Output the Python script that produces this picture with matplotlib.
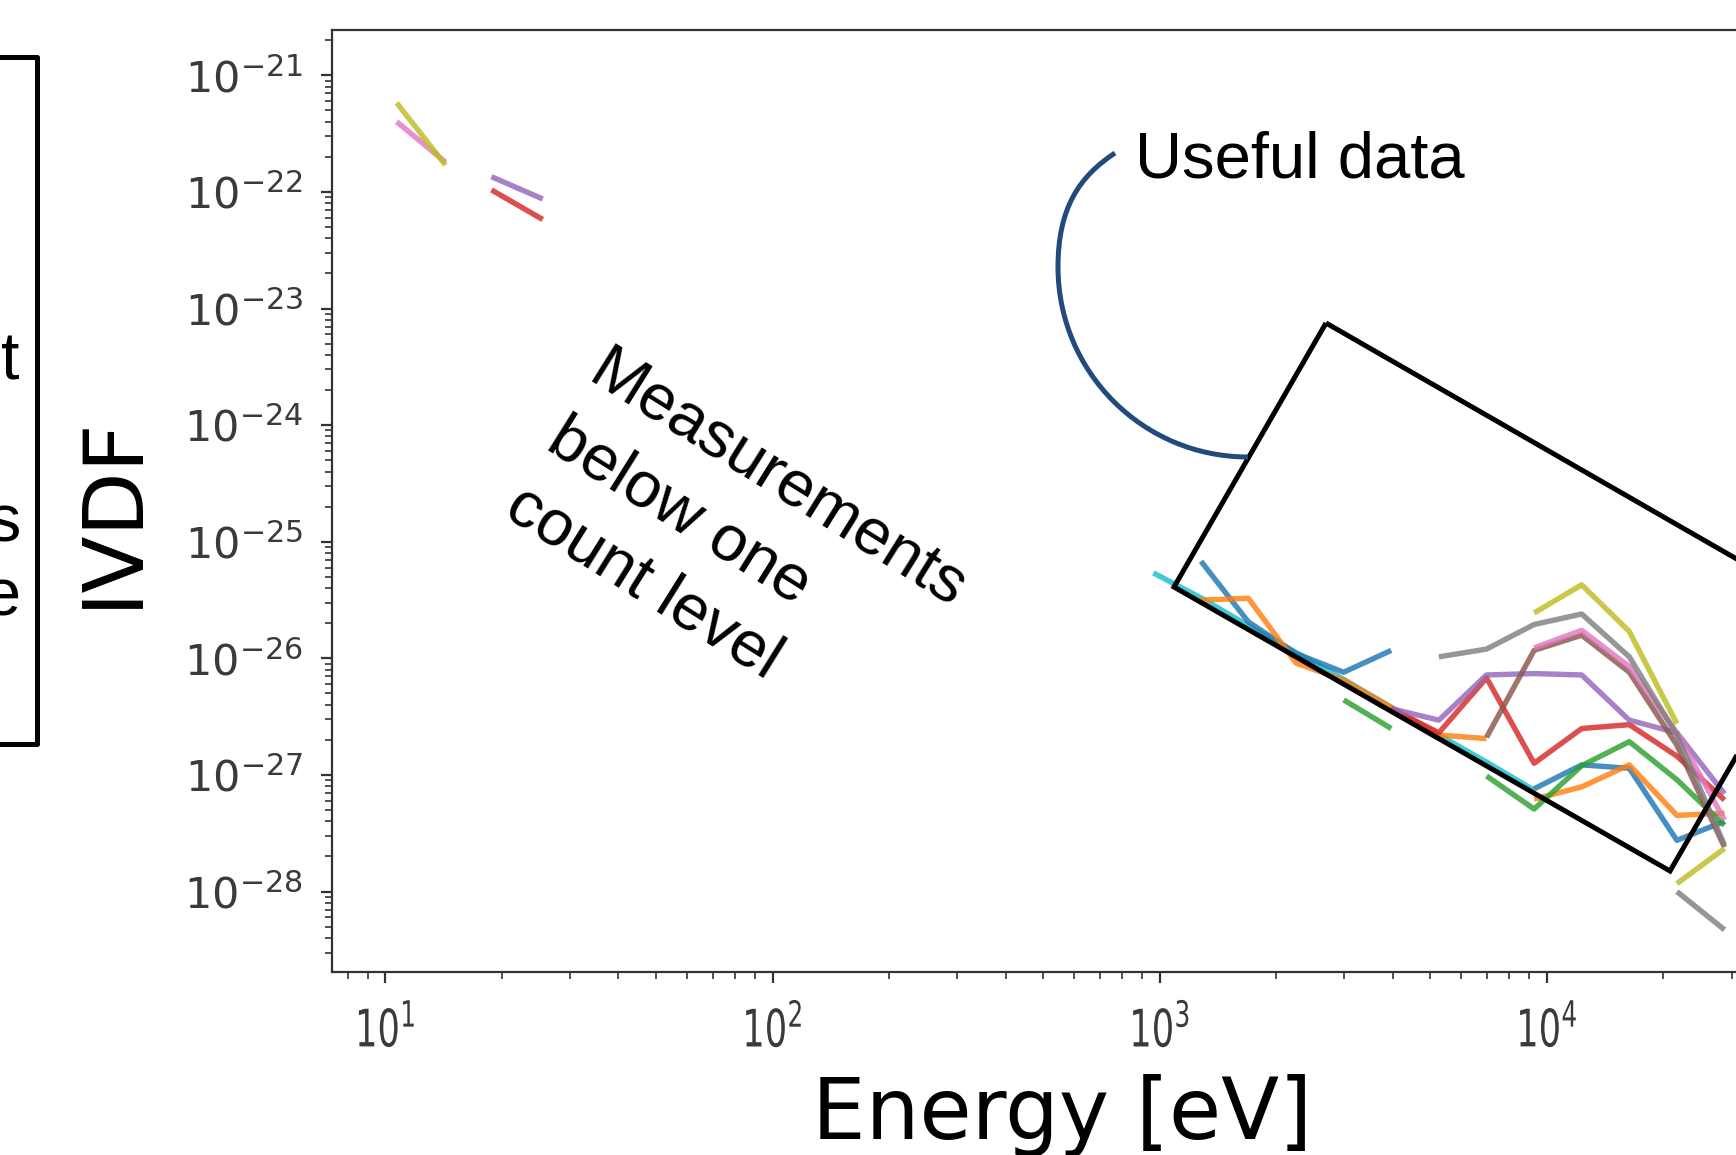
"""IVDF vs energy, annotated slide crop."""

import numpy as np
import matplotlib

matplotlib.use("Agg")
import matplotlib.pyplot as plt
from matplotlib import patheffects
from matplotlib.patches import PathPatch, Polygon
from matplotlib.path import Path
from matplotlib.ticker import LogLocator, NullFormatter
from matplotlib.transforms import Affine2D

nan = np.nan

# --- data ----------------------------------------------------------------
energy_low = [10.7, 14.3, 18.8, 25.5]
low_olive = [5.8e-22, 1.7e-22, nan, nan]
low_pink = [4.0e-22, 1.8e-22, nan, nan]
low_purple = [nan, nan, 1.35e-22, 8.7e-23]
low_red = [nan, nan, 1.04e-22, 5.8e-23]

energy_high = [963, 1278, 1695, 2250, 2986, 3963, 5260, 6982, 9267,
               12297, 16322, 21661, 28748]
cyan = [5.4e-26, 3.3e-26, 1.9e-26, 1.12e-26, 6.6e-27, 3.8e-27, 2.2e-27,
        1.29e-27, 7.4e-28, nan, nan, nan, nan]
blue_a = [nan, 6.8e-26, 2.05e-26, 1.1e-26, 7.6e-27, 1.17e-26, nan, nan,
          nan, nan, nan, nan, nan]
blue_b = [nan, nan, nan, nan, nan, nan, nan, nan, 7.6e-28, 1.22e-27,
          1.14e-27, 2.75e-28, 4.0e-28]
orange_a = [nan, 3.16e-26, 3.27e-26, 9.1e-27, 6.5e-27, 3.8e-27, 2.2e-27,
            2.05e-27, nan, nan, nan, nan, nan]
orange_b = [nan, nan, nan, nan, nan, nan, nan, nan, 6.2e-28, 7.9e-28,
            1.22e-27, 4.5e-28, 4.7e-28]
green_a = [nan, nan, nan, nan, 4.4e-27, 2.5e-27, nan, nan, nan, nan, nan,
           nan, nan]
green_b = [nan, nan, nan, nan, nan, nan, nan, 9.8e-28, 5.1e-28, 1.2e-27,
           1.93e-27, 9.1e-28, 3.7e-28]
red = [nan, nan, nan, nan, nan, 3.7e-27, 2.3e-27, 6.8e-27, 1.26e-27,
       2.5e-27, 2.7e-27, 1.45e-27, 6.1e-28]
purple = [nan, nan, nan, nan, nan, 3.7e-27, 2.95e-27, 7.2e-27, 7.4e-27,
          7.2e-27, 2.95e-27, 2.3e-27, 6.9e-28]
brown = [nan, nan, nan, nan, nan, nan, nan, 2.1e-27, 1.17e-26, 1.58e-26,
         7.6e-27, 1.8e-27, 2.4e-28]
pink = [nan, nan, nan, nan, nan, nan, nan, nan, 1.23e-26, 1.74e-26,
        8.5e-27, 2.3e-27, 4.1e-28]
gray_a = [nan, nan, nan, nan, nan, nan, 1.03e-26, 1.2e-26, 1.95e-26,
          2.4e-26, 1.03e-26, 2.2e-27, 2.5e-28]
gray_b = [nan, nan, nan, nan, nan, nan, nan, nan, nan, nan, nan, 1.0e-28,
          4.7e-29]
olive_a = [nan, nan, nan, nan, nan, nan, nan, nan, 2.45e-26, 4.27e-26,
           1.7e-26, 2.75e-27, nan]
olive_b = [nan, nan, nan, nan, nan, nan, nan, nan, nan, nan, nan,
           1.17e-28, 2.34e-28]

series = [
    ("#17becf", energy_high, cyan),
    ("#1f77b4", energy_high, blue_a),
    ("#1f77b4", energy_high, blue_b),
    ("#ff7f0e", energy_high, orange_a),
    ("#ff7f0e", energy_high, orange_b),
    ("#2ca02c", energy_high, green_a),
    ("#2ca02c", energy_high, green_b),
    ("#d62728", energy_low, low_red),
    ("#d62728", energy_high, red),
    ("#9467bd", energy_low, low_purple),
    ("#9467bd", energy_high, purple),
    ("#8c564b", energy_high, brown),
    ("#e377c2", energy_low, low_pink),
    ("#e377c2", energy_high, pink),
    ("#7f7f7f", energy_high, gray_a),
    ("#7f7f7f", energy_high, gray_b),
    ("#bcbd22", energy_low, low_olive),
    ("#bcbd22", energy_high, olive_a),
    ("#bcbd22", energy_high, olive_b),
]


class Stretch(patheffects.AbstractPathEffect):
    """Scale glyphs about their own centre (the tick labels look squeezed)."""

    def __init__(self, sx=1.0, sy=1.0):
        super().__init__()
        self.sx, self.sy = sx, sy

    def draw_path(self, renderer, gc, tpath, affine, rgbFace=None):
        v = tpath.vertices
        cx = 0.5 * (v[:, 0].min() + v[:, 0].max())
        cy = 0.5 * (v[:, 1].min() + v[:, 1].max())
        t = Affine2D().translate(-cx, -cy).scale(self.sx, self.sy).translate(cx, cy)
        renderer.draw_path(gc, tpath, t + affine, rgbFace)


W, H = 1736, 1155
fig = plt.figure(figsize=(W / 100, H / 100), dpi=100)

# axes run past the right edge of the crop
x_lo, x_hi = 0.8623, 4.6
ax = fig.add_axes([332 / W, 1 - 972 / H, (x_hi - x_lo) * 387.2 / W, (972 - 30) / H])

for color, xs, ys in series:
    ax.plot(xs, ys, color=color, lw=3.9, alpha=0.82, solid_capstyle="butt")

ax.set_xscale("log")
ax.set_yscale("log")
ax.set_xlim(10 ** x_lo, 10 ** x_hi)
ax.set_ylim(10 ** -28.69, 10 ** -20.6115)

sub = np.arange(2, 10)
ax.xaxis.set_major_locator(LogLocator(base=10, numticks=20))
ax.yaxis.set_major_locator(LogLocator(base=10, numticks=20))
ax.xaxis.set_minor_locator(LogLocator(base=10, subs=sub, numticks=200))
ax.yaxis.set_minor_locator(LogLocator(base=10, subs=sub, numticks=200))
ax.xaxis.set_minor_formatter(NullFormatter())
ax.yaxis.set_minor_formatter(NullFormatter())

ax.tick_params(which="major", length=8, width=1.6, color="#333333",
               labelcolor="#3a3a3a", labelsize=31)
ax.tick_params(which="minor", length=5, width=1.2, color="#333333")
ax.tick_params(axis="y", which="major", pad=13)
ax.tick_params(axis="x", which="major", pad=19)
for lab in ax.get_xticklabels():
    lab.set_path_effects([Stretch(0.82, 1.2)])

for side in ("left", "bottom", "top"):
    ax.spines[side].set_linewidth(1.6)
    ax.spines[side].set_color("#333333")
ax.spines["right"].set_visible(False)

ax.set_xlabel("Energy [eV]", fontsize=61, va="baseline", ha="center")
ax.xaxis.set_label_coords((1062 - 332) / (x_hi - x_lo) / 387.2, (972 - 1139) / 942)
ax.set_ylabel("IVDF", fontsize=60, rotation=90, rotation_mode="default",
              va="center", ha="center")
ax.yaxis.set_label_coords((112 - 332) / (x_hi - x_lo) / 387.2, (972 - 511) / 942)

# --- slide overlay, in pixel coordinates of the crop (y down) -------------
ref = Affine2D().scale(1 / W, -1 / H).translate(0, 1) + fig.transFigure
arial = "Liberation Sans"

box = Polygon([(1326, 323), (1822, 608), (1670, 871), (1174, 587)], closed=True,
              fill=False, ec="black", lw=3.6, joinstyle="miter",
              transform=ref, clip_on=False)
fig.add_artist(box)

arc = Path(
    [(1115, 153), (1080, 176), (1058, 207), (1058, 267),
     (1058, 372), (1143, 457), (1248, 457)],
    [Path.MOVETO, Path.CURVE4, Path.CURVE4, Path.CURVE4,
     Path.CURVE4, Path.CURVE4, Path.CURVE4],
)
fig.add_artist(PathPatch(arc, fill=False, ec="#234a7c", lw=3.6,
                         capstyle="butt", transform=ref))

fig.text(1135, 178, "Useful data", fontsize=47, family=arial, ha="left",
         va="baseline", transform=ref)

note_lines = ["Measurements", "below one", "count level"]
ang = np.deg2rad(32)
for i, line in enumerate(note_lines):
    x0 = 586 - i * 79 * np.sin(ang)
    y0 = 381 + i * 79 * np.cos(ang)
    fig.text(x0, y0, line, fontsize=47, family=arial, rotation=-32,
             rotation_mode="anchor", ha="left", va="baseline", transform=ref)

# box on the left edge, mostly cropped away
left_box = Polygon([(-20, 57), (37, 57), (37, 744), (-20, 744)], closed=True,
                   fill=False, ec="black", lw=3.6, joinstyle="round",
                   transform=ref, clip_on=False)
fig.add_artist(left_box)
for ch, yc in (("t", 362), ("s", 524), ("e", 598)):
    fig.text(20, yc, ch, fontsize=48, family=arial, ha="right", va="center",
             transform=ref)

fig.savefig("out.png", dpi=100)
